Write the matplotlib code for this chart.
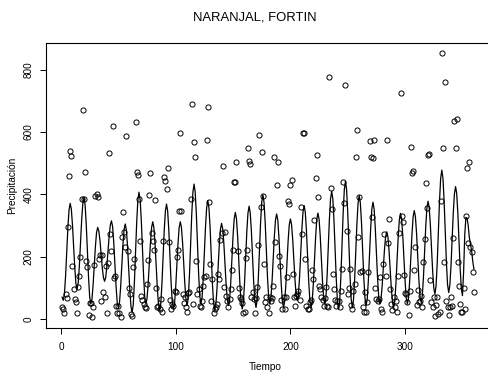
import numpy as np
import matplotlib
matplotlib.use("Agg")
import matplotlib.pyplot as plt

# Precipitación mensual observada, un renglón por año (12 meses)
precip = [
    37, 31, 18, 80, 67, 296, 460, 540, 524, 171, 96, 63,
    53, 18, 102, 139, 198, 386, 671, 386, 472, 185, 166, 13,
    52, 51, 6, 40, 173, 395, 401, 393, 192, 205, 59, 206,
    86, 69, 170, 20, 179, 532, 273, 217, 619, 131, 139, 42,
    20, 43, 18, 6, 264, 342, 278, 230, 588, 219, 101, 80,
    16, 11, 166, 192, 633, 473, 462, 386, 251, 75, 61, 48,
    37, 34, 112, 189, 398, 467, 275, 251, 221, 382, 101, 37,
    43, 33, 64, 24, 251, 457, 444, 418, 484, 248, 61, 31,
    48, 43, 89, 86, 198, 223, 348, 596, 348, 80, 50, 71,
    37, 24, 82, 86, 386, 690, 48, 569, 519, 187, 80, 96,
    43, 40, 59, 107, 136, 139, 574, 681, 377, 176, 57, 129,
    18, 32, 37, 48, 146, 128, 253, 275, 492, 104, 278, 75,
    59, 37, 64, 97, 157, 221, 439, 439, 503, 217, 99, 69,
    65, 50, 18, 21, 196, 221, 549, 508, 497, 69, 86, 65,
    18, 68, 104, 238, 589, 358, 535, 396, 176, 53, 69, 37,
    20, 69, 59, 66, 107, 519, 246, 431, 503, 203, 171, 61,
    31, 71, 32, 69, 134, 378, 369, 431, 446, 144, 69, 43,
    74, 80, 89, 61, 358, 273, 597, 596, 192, 43, 31, 32,
    55, 61, 157, 128, 318, 451, 526, 391, 107, 96, 71, 60,
    43, 66, 104, 43, 40, 778, 420, 353, 146, 96, 61, 43,
    59, 59, 37, 89, 159, 439, 372, 752, 283, 80, 101, 160,
    45, 31, 89, 112, 521, 607, 264, 391, 150, 155, 37, 24,
    86, 21, 53, 150, 572, 521, 326, 517, 574, 99, 64, 57,
    64, 136, 31, 24, 176, 273, 139, 574, 243, 321, 96, 48,
    30, 71, 37, 59, 24, 139, 275, 724, 332, 310, 142, 83,
    80, 53, 14, 91, 553, 468, 474, 157, 232, 45, 93, 53,
    59, 75, 37, 182, 257, 435, 356, 527, 529, 125, 53, 37,
    69, 11, 45, 69, 16, 24, 378, 853, 549, 182, 760, 59,
    40, 14, 37, 71, 43, 259, 636, 549, 642, 182, 107, 48,
    21, 24, 101, 32, 331, 484, 243, 503, 232, 214, 150, 86,
]

# Valores ajustados por el modelo
ajuste = [
    70, 60, 81, 138, 216, 293, 350, 371, 353, 302, 234, 165,
    114, 96, 116, 170, 243, 317, 370, 390, 367, 305, 219, 134,
    71, 48, 64, 110, 171, 233, 278, 294, 282, 251, 208, 164,
    133, 121, 134, 170, 218, 267, 302, 315, 296, 245, 175, 105,
    54, 35, 53, 103, 170, 238, 287, 305, 286, 234, 163, 92,
    40, 21, 47, 118, 214, 311, 381, 407, 383, 317, 228, 138,
    72, 48, 66, 114, 180, 246, 294, 312, 293, 241, 170, 98,
    46, 27, 50, 113, 198, 284, 346, 369, 346, 285, 201, 116,
    55, 32, 51, 102, 172, 242, 293, 312, 294, 245, 178, 110,
    61, 43, 69, 141, 238, 336, 407, 433, 407, 337, 241, 144,
    74, 48, 70, 131, 214, 297, 358, 380, 356, 292, 204, 115,
    51, 27, 46, 97, 167, 237, 288, 307, 289, 241, 175, 109,
    61, 43, 63, 118, 193, 267, 322, 342, 321, 265, 187, 110,
    53, 32, 54, 115, 197, 280, 340, 362, 340, 281, 200, 118,
    59, 37, 61, 128, 218, 309, 375, 399, 375, 311, 224, 136,
    72, 48, 67, 120, 193, 265, 318, 337, 317, 262, 187, 112,
    57, 37, 56, 108, 179, 250, 302, 321, 303, 256, 190, 125,
    77, 59, 79, 135, 212, 288, 344, 364, 342, 282, 201, 119,
    59, 37, 57, 113, 189, 264, 320, 340, 320, 267, 194, 121,
    68, 48, 72, 139, 229, 320, 386, 410, 385, 316, 221, 127,
    57, 32, 59, 135, 237, 340, 415, 442, 415, 341, 240, 138,
    64, 37, 61, 127, 217, 306, 372, 396, 372, 308, 220, 131,
    67, 43, 65, 126, 209, 292, 353, 375, 353, 293, 212, 130,
    70, 48, 64, 106, 164, 222, 264, 280, 264, 219, 159, 98,
    53, 37, 57, 113, 188, 264, 319, 339, 320, 266, 194, 121,
    67, 48, 68, 123, 198, 273, 328, 348, 328, 274, 201, 127,
    73, 53, 75, 134, 216, 297, 356, 378, 358, 304, 229, 155,
    100, 80, 107, 180, 279, 379, 451, 478, 452, 380, 282, 183,
    111, 85, 108, 170, 255, 340, 402, 425, 402, 338, 250, 163,
    98, 75, 150, 270, 326, 324, 300, 262, 240, 219, 185, 160,
]

tiempo = np.arange(1, len(precip) + 1)
xticks = [0, 100, 200, 300]
yticks = [0, 200, 400, 600, 800]

plt.rcParams['font.family'] = ['Liberation Sans', 'DejaVu Sans']

fig = plt.figure(figsize=(4.88, 3.79), dpi=100)
ax = fig.add_axes([0.0936, 0.1354, 0.9113, 0.752])

ax.plot(tiempo, ajuste, color='black', lw=0.9)
ax.plot(tiempo, precip, 'o', mfc='none', mec='black', ms=3.7, mew=0.7)

# limites al estilo de R (4% de margen)
def rango(v):
    lo, hi = min(v), max(v)
    d = 0.04 * (hi - lo)
    return lo - d, hi + d

ax.set_xlim(rango(tiempo))
ax.set_ylim(rango(precip))
ax.set_xticks(xticks)
ax.set_yticks(yticks)
ax.tick_params(direction='out', length=4.3, width=0.7, labelsize=7.2,
               colors='black')
ax.tick_params(axis='y', labelrotation=90, pad=4.5)
ax.tick_params(axis='x', pad=6.2)
for lab in ax.get_yticklabels():
    lab.set_va('center')
for s in ax.spines.values():
    s.set_linewidth(0.8)

fig.text(254.5 / 488, 1 - 17 / 379, 'NARANJAL, FORTIN', ha='center', va='center',
         fontsize=9.4)
fig.text(265 / 488, 1 - 366.7 / 379, 'Tiempo', ha='center', va='center', fontsize=7.2)
fig.text(12 / 488, 1 - 185 / 379, 'Precipitación', rotation=90,
         ha='center', va='center', fontsize=7.2)

fig.savefig('out.png', dpi=100)
